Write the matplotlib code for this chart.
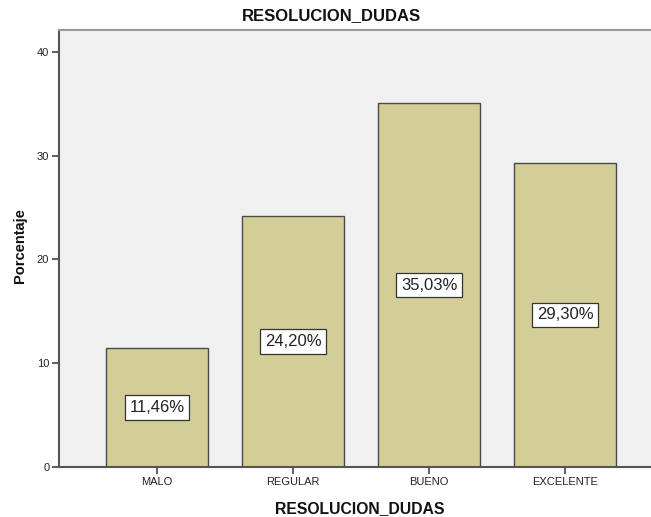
import matplotlib
matplotlib.use("Agg")
import matplotlib.pyplot as plt

plt.rcParams['font.family'] = ['Liberation Sans', 'DejaVu Sans']

categories = ["MALO", "REGULAR", "BUENO", "EXCELENTE"]
percentages = [11.46, 24.20, 35.03, 29.30]
y_ticks = [0, 10, 20, 30, 40]

fig = plt.figure(figsize=(6.51, 5.17), dpi=100)
ax = fig.add_axes([59 / 651, 50 / 517, 1 - 59 / 651, 437 / 517])
ax.set_facecolor("#F0F0F0")

x = list(range(len(categories)))
ax.bar(x, percentages, width=0.75, color="#D3CE98", edgecolor="#4A4A4A", linewidth=1.0, zorder=2)

for xi, v in zip(x, percentages):
    ax.text(xi, v / 2, f"{v:.2f}%".replace(".", ","), ha="center", va="center",
            fontsize=12, color="#222222", zorder=3,
            bbox=dict(boxstyle="square,pad=0.28", facecolor="white", edgecolor="#333333", linewidth=0.9))

ax.set_xlim(-0.72, 3.63)
ax.set_ylim(0, 42.1)
ax.set_yticks(y_ticks)
ax.set_yticklabels([str(t) for t in y_ticks], fontsize=8, color="#222222")
ax.set_xticks(x)
ax.set_xticklabels(categories, fontsize=8, color="#222222")
ax.tick_params(axis="both", direction="out", length=5, width=1.2, color="#444444", pad=2)

for side in ["left", "bottom"]:
    ax.spines[side].set_color("#555555")
    ax.spines[side].set_linewidth(1.5)
ax.spines["top"].set_color("#999999")
ax.spines["top"].set_linewidth(1.5)
ax.spines["right"].set_visible(False)

fig.text(331 / 651, 1 - 16 / 517, "RESOLUCION_DUDAS", ha="center", va="center",
         fontsize=12, fontweight="bold", color="#111111")
fig.text(360 / 651, 1 - 509 / 517, "RESOLUCION_DUDAS", ha="center", va="center",
         fontsize=11.3, fontweight="bold", color="#111111")
fig.text(20 / 651, 1 - 246 / 517, "Porcentaje", ha="center", va="center", rotation=90,
         fontsize=10.5, fontweight="bold", color="#111111")

fig.savefig("out.png", dpi=100)
